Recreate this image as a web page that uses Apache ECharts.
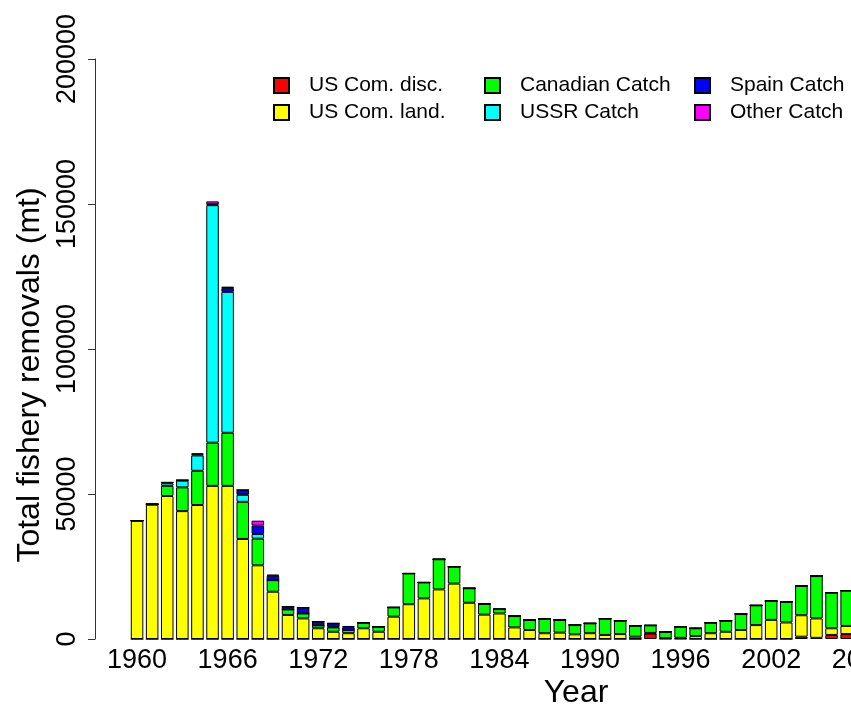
<!DOCTYPE html>
<html>
<head>
<meta charset="utf-8">
<script src="https://cdn.jsdelivr.net/npm/echarts@6/dist/echarts.min.js"></script>
<style>
  html, body { margin: 0; padding: 0; background: #fff; overflow: hidden; }
  /* the plot runs past the right edge of the picture, as in the original */
  #main { width: 920px; height: 713px; }
</style>
</head>
<body>
<div id="main"></div>
<script>
// years on the x axis (bars drawn for 1960-2007, plot continues off the right edge)
var years = [];
for (var y = 1960; y <= 2010; y++) years.push(String(y));

// removals by source, mt, 1960..2007
var usDisc = [0, 0, 0, 0, 0, 0, 0, 0, 0, 0,
    0, 0, 0, 0, 0, 0, 0, 0, 0, 0,
    0, 0, 0, 0, 0, 0, 0, 0, 0, 0,
    0, 0, 0, 0, 1900, 100, 100, 0, 0, 0,
    0, 0, 0, 0, 800, 400, 1400, 1700];
var usLand = [40800, 46300, 49300, 44100, 46200, 52800, 52800, 34500, 25400, 16300,
    8300, 7100, 3700, 2500, 2000, 3700, 2500, 7700, 12000, 14000,
    17100, 19100, 12500, 8400, 8800, 4000, 3100, 2000, 2200, 1600,
    2000, 1400, 1700, 800, 200, 200, 300, 1000, 2000, 2500,
    3100, 4800, 6600, 5700, 7400, 6700, 2300, 2800];
var canada = [0, 200, 3500, 8200, 11800, 14900, 18300, 12800, 9200, 4000,
    1900, 1700, 1000, 1500, 1100, 1900, 1700, 3200, 10600, 5500,
    10400, 5800, 5000, 3700, 1500, 3900, 3500, 4900, 4400, 3200,
    3400, 5600, 4600, 3800, 2600, 2200, 3800, 2700, 3600, 3800,
    5500, 6800, 6500, 7100, 10100, 14600, 12300, 12200];
var ussr = [0, 0, 900, 2300, 5300, 81900, 48600, 2400, 1600, 0,
    0, 0, 0, 200, 0, 0, 0, 0, 0, 0,
    0, 0, 0, 0, 0, 0, 0, 0, 0, 0,
    0, 0, 0, 0, 0, 0, 0, 0, 0, 0,
    0, 0, 0, 0, 0, 0, 0, 0];
var spain = [0, 0, 300, 200, 400, 300, 1300, 1700, 2900, 1500,
    1000, 2000, 1300, 1200, 1000, 0, 0, 0, 0, 0,
    0, 0, 0, 0, 0, 0, 0, 0, 0, 0,
    0, 0, 0, 0, 0, 0, 0, 0, 0, 0,
    0, 0, 0, 0, 0, 0, 0, 0];
var other = [0, 0, 0, 0, 300, 1000, 500, 0, 1700, 400,
    0, 0, 0, 0, 400, 0, 0, 0, 0, 0,
    0, 0, 0, 0, 0, 0, 0, 0, 0, 0,
    0, 0, 0, 0, 0, 0, 0, 0, 0, 0,
    0, 0, 0, 0, 0, 0, 0, 0];

var yTicks = [0, 50000, 100000, 150000, 200000];

var seriesNames = ['US Com. disc.', 'US Com. land.', 'Canadian Catch', 'USSR Catch', 'Spain Catch', 'Other Catch'];
var seriesData = [usDisc, usLand, canada, ussr, spain, other];
var seriesColors = ['#ff0000', '#ffff00', '#00ff00', '#00ffff', '#0000ff', '#ff00ff'];

var font = '"Liberation Sans", Arial, Helvetica, sans-serif';

var myChart = echarts.init(document.getElementById('main'));

var series = seriesNames.map(function (name, i) {
    return {
        name: name,
        type: 'bar',
        stack: 'total',
        barWidth: '83%',
        data: seriesData[i],
        itemStyle: {
            color: seriesColors[i],
            borderColor: '#000',
            borderWidth: 1
        }
    };
});

function legendCol(left, names) {
    return {
        orient: 'vertical',
        left: left,
        top: 70,
        icon: 'rect',
        itemWidth: 15,
        itemHeight: 15,
        itemGap: 6,
        data: names,
        textStyle: {
            fontFamily: font,
            fontSize: 21,
            color: '#000',
            padding: [0, 0, 0, 15]
        }
    };
}

var option = {
    animation: false,
    backgroundColor: '#fff',
    grid: {
        left: 129.5,
        top: 59,
        bottom: 74,
        width: 770
    },
    legend: [
        legendCol(268, ['US Com. disc.', 'US Com. land.']),
        legendCol(479, ['Canadian Catch', 'USSR Catch']),
        legendCol(689, ['Spain Catch', 'Other Catch'])
    ],
    xAxis: {
        type: 'category',
        data: years,
        axisLine: { show: false },
        axisTick: { show: false },
        axisLabel: {
            interval: 5,
            margin: 8,
            fontFamily: font,
            fontSize: 27,
            color: '#000'
        }
    },
    yAxis: {
        type: 'value',
        min: yTicks[0],
        max: yTicks[yTicks.length - 1],
        interval: 50000,
        offset: 34.5,
        splitLine: { show: false },
        axisLine: { show: true, lineStyle: { color: '#333', width: 1 } },
        axisTick: { show: true, length: 7, lineStyle: { color: '#333' } },
        axisLabel: {
            rotate: 90,
            margin: 14,
            fontFamily: font,
            fontSize: 27,
            color: '#000',
            formatter: function (v) { return String(v); }
        }
    },
    graphic: [
        {
            type: 'text',
            x: 30,
            y: 375,
            rotation: Math.PI / 2,
            style: {
                text: 'Total fishery removals (mt)',
                font: '32px ' + font,
                fill: '#000',
                align: 'center',
                verticalAlign: 'middle'
            }
        },
        {
            type: 'text',
            x: 576,
            y: 693,
            style: {
                text: 'Year',
                font: '32px ' + font,
                fill: '#000',
                align: 'center',
                verticalAlign: 'middle'
            }
        }
    ],
    series: series
};

myChart.setOption(option);
</script>
</body>
</html>
